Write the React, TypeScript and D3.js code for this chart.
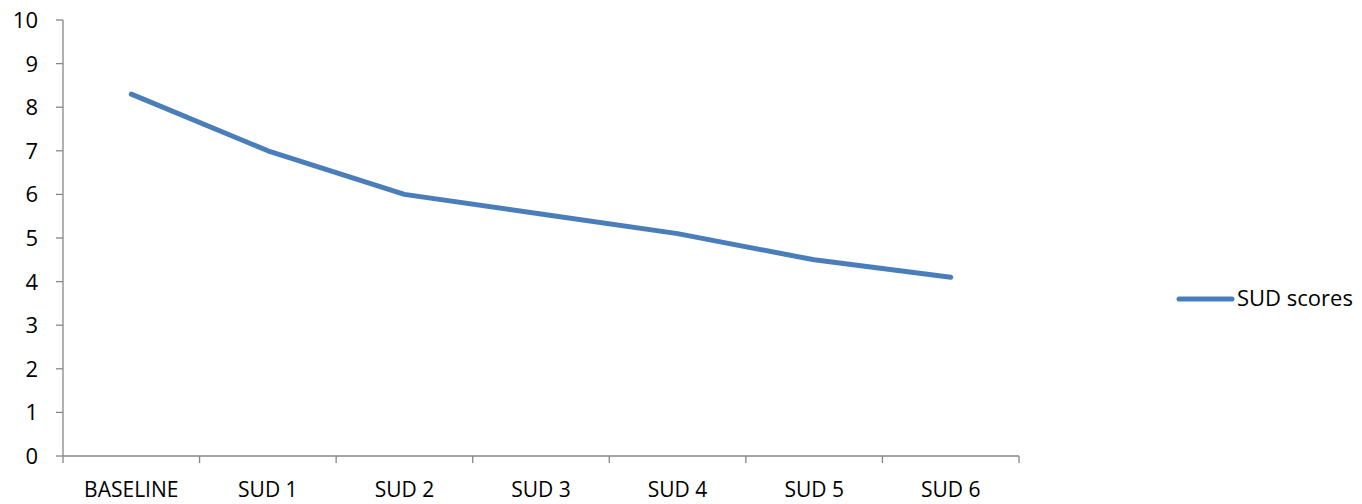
import React from "react";
import * as d3 from "d3";

const categories = ["BASELINE", "SUD 1", "SUD 2", "SUD 3", "SUD 4", "SUD 5", "SUD 6"];
const sudScores = [8.3, 7.0, 6.0, 5.55, 5.1, 4.5, 4.1];
const yTicks = [0, 1, 2, 3, 4, 5, 6, 7, 8, 9, 10];
const seriesName = "SUD scores";

export default function App() {
  const W = 1362, H = 504;
  const left = 63, right = 1019, top = 20, bottom = 456;
  const x = d3.scaleBand<string>().domain(categories).range([left, right]).paddingInner(0).paddingOuter(0);
  const y = d3.scaleLinear().domain([0, 10]).range([bottom, top]);
  const line = d3.line<number>()
    .x((_, i) => (x(categories[i]) as number) + x.bandwidth() / 2)
    .y((d) => y(d));
  const axisColor = "#868686";
  const font = "'Open Sans', sans-serif";
  const boundaries = d3.range(categories.length + 1).map((i) => left + i * x.step());
  return (
    <svg width={W} height={H} style={{ position: "absolute", left: 0, top: 0, background: "#fff" }} fontFamily={font}>
      <line x1={left} x2={left} y1={top} y2={bottom} stroke={axisColor} strokeWidth={1.3} />
      {yTicks.map((t) => (
        <g key={t}>
          <line x1={left - 7} x2={left} y1={y(t)} y2={y(t)} stroke={axisColor} strokeWidth={1.3} />
          <text x={38} y={y(t)} dy="0.36em" textAnchor="end" fontSize={22} fill="#000">{t}</text>
        </g>
      ))}
      <line x1={left} x2={right} y1={bottom} y2={bottom} stroke={axisColor} strokeWidth={1.3} />
      {boundaries.map((b, i) => (
        <line key={i} x1={b} x2={b} y1={bottom} y2={bottom + 7} stroke={axisColor} strokeWidth={1.3} />
      ))}
      {categories.map((c) => (
        <text key={c} x={(x(c) as number) + x.bandwidth() / 2} y={497} textAnchor="middle" fontSize={21} fill="#000">{c}</text>
      ))}
      <path d={line(sudScores) || ""} fill="none" stroke="#4A7EBB" strokeWidth={5} strokeLinejoin="round" strokeLinecap="round" />
      <line x1={1179} x2={1232} y1={299} y2={299} stroke="#4A7EBB" strokeWidth={5} strokeLinecap="round" />
      <text x={1237} y={298} dy="0.36em" fontSize={22} fill="#000">{seriesName}</text>
    </svg>
  );
}
